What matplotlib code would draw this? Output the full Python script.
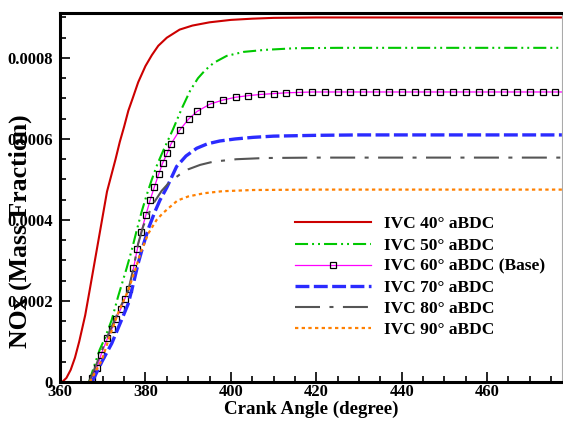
import matplotlib
matplotlib.use("Agg")
import matplotlib.pyplot as plt
from matplotlib.ticker import MultipleLocator, FixedLocator, FixedFormatter

plt.rcParams["font.family"] = ["Liberation Serif", "DejaVu Serif"]
plt.rcParams["font.weight"] = "bold"
plt.rcParams["lines.scale_dashes"] = False

# ------------------------------------------------------------------ data
# crank angle (deg) / NOx mass fraction
ca_40 = [360.5, 361.5, 362.5, 363.5, 364.5, 365.9, 367, 368, 369, 370, 371, 372,
         373, 374, 375, 376, 377, 378.3, 380, 381.5, 383, 385, 388, 391, 395,
         400, 405, 410, 420, 477.5]
nox_40 = [0, 0.00001, 0.00003, 0.00006, 0.0001, 0.000165, 0.00023, 0.00029,
          0.00035, 0.00041, 0.00047, 0.00051, 0.00055, 0.000593, 0.00063,
          0.00067, 0.0007, 0.00074, 0.00078, 0.000807, 0.00083, 0.00085,
          0.00087, 0.00088, 0.000888, 0.000894, 0.000897, 0.000899, 0.0009,
          0.0009]

ca_50 = [366.8, 368.2, 369.3, 370.5, 372.1, 373.6, 375.6, 376.8, 377.9, 379.1,
         380.3, 381.5, 382.8, 384.2, 386.5, 388.5, 390.5, 392.3, 394, 396, 399,
         403, 408, 415, 425, 477.5]
nox_50 = [0, 0.000046, 0.00008, 0.000108, 0.000153, 0.000211, 0.000281,
          0.000326, 0.000372, 0.00042, 0.000462, 0.0005, 0.000538, 0.000572,
          0.000625, 0.000675, 0.00072, 0.00075, 0.00077, 0.000788, 0.000805,
          0.000815, 0.00082, 0.000824, 0.000825, 0.000825]

ca_60 = [366.8, 367.4, 368.6, 369.6, 371.1, 372.1, 373.1, 374.2, 375.1, 376.1,
         377.2, 378.1, 379.0, 380.1, 381.1, 382.1, 383.1, 384.0, 385.1, 386.0,
         388.1, 390.1, 392.1, 395.1, 398.1, 401.1, 404.1, 407, 410, 413, 416,
         419, 422, 425, 428, 431, 434, 437, 440, 443, 446, 449, 452, 455, 458,
         461, 464, 467, 470, 473, 476, 477.5]
nox_60 = [0, 0.000011, 0.000034, 0.000067, 0.000108, 0.00013, 0.000155,
          0.00018, 0.000204, 0.000229, 0.000281, 0.000328, 0.000371, 0.000412,
          0.000449, 0.000482, 0.000513, 0.00054, 0.000565, 0.000588, 0.000623,
          0.000649, 0.000668, 0.000686, 0.000696, 0.000703, 0.000707, 0.00071,
          0.000712, 0.000714, 0.000715, 0.000716, 0.000716, 0.000716, 0.000716,
          0.000716, 0.000716, 0.000716, 0.000716, 0.000716, 0.000716, 0.000716,
          0.000716, 0.000716, 0.000716, 0.000716, 0.000716, 0.000716, 0.000716,
          0.000716, 0.000716, 0.000716]

ca_70 = [367.5, 369.8, 372.1, 374.4, 376.0, 377.2, 378.3, 379.5, 380.7, 382.2,
         383.4, 385.0, 387.3, 389.5, 392.0, 394.5, 397.4, 401, 405.2, 410, 420,
         430, 477.5]
nox_70 = [0, 0.00005, 0.000095, 0.000153, 0.000194, 0.000244, 0.000293,
          0.000338, 0.000379, 0.00042, 0.000449, 0.00048, 0.000532, 0.000558,
          0.000577, 0.000588, 0.000595, 0.0006, 0.000604, 0.000607, 0.000609,
          0.00061, 0.00061]

ca_80 = [366.8, 368, 369.4, 370.9, 372.5, 374.0, 376.0, 377.2, 378.3, 379.5,
         380.5, 382.0, 383.8, 385.7, 388, 390.0, 392.8, 395.9, 401.3, 408, 420,
         477.5]
nox_80 = [0, 0.00003, 0.000067, 0.000108, 0.000146, 0.000182, 0.000227,
          0.000281, 0.000342, 0.000385, 0.00041, 0.000443, 0.000472, 0.000494,
          0.000512, 0.000525, 0.000536, 0.000544, 0.00055, 0.000553, 0.000554,
          0.000554]

ca_90 = [367.0, 369.8, 371.7, 373.6, 376.0, 377.6, 379.1, 380.7, 382.6, 384.0,
         385.5, 387.5, 390, 393.7, 398, 405.2, 420, 477.5]
nox_90 = [0, 0.000054, 0.000115, 0.00017, 0.000227, 0.000277, 0.000326,
          0.000367, 0.0004, 0.000416, 0.00043, 0.000448, 0.000458, 0.000466,
          0.000471, 0.000474, 0.000475, 0.000475]

labels = ["IVC 40° aBDC", "IVC 50° aBDC", "IVC 60° aBDC (Base)",
          "IVC 70° aBDC", "IVC 80° aBDC", "IVC 90° aBDC"]

x_ticks = [360, 380, 400, 420, 440, 460]
y_ticks = [0, 0.0002, 0.0004, 0.0006, 0.0008]
y_tick_labels = ["0", "0.0002", "0.0004", "0.0006", "0.0008"]

# ------------------------------------------------------------------ plot
fig = plt.figure(figsize=(5.63, 4.25), dpi=100)
ax = fig.add_axes([0.1066, 0.1012, 0.8914, 0.8682])

ax.plot(ca_40, nox_40, color="#cc0000", lw=1.5, label=labels[0])
ax.plot(ca_50, nox_50, color="#00c800", lw=1.5,
        dashes=(9.4, 2.9, 1.4, 2.9, 1.4, 2.9), label=labels[1])
ax.plot(ca_60, nox_60, color="#ff00ff", lw=0.9, marker="s", ms=4.0,
        mfc="none", mec="black", mew=0.9, markevery=slice(1, -1),
        label=labels[2])
ax.plot(ca_70, nox_70, color="#2b2bff", lw=2.4, dashes=(10, 3.2),
        label=labels[3])
ax.plot(ca_80, nox_80, color="#555555", lw=1.5, dashes=(18, 6.8, 2.9, 6.8),
        label=labels[4])
ax.plot(ca_90, nox_90, color="#ff8000", lw=1.6, dashes=(2.4, 2.4),
        label=labels[5])

ax.set_xlim(360, 477.5)
ax.set_ylim(0, 0.000911)

ax.xaxis.set_major_locator(FixedLocator(x_ticks))
ax.xaxis.set_minor_locator(MultipleLocator(5))
ax.yaxis.set_major_locator(FixedLocator(y_ticks))
ax.yaxis.set_major_formatter(FixedFormatter(y_tick_labels))
ax.yaxis.set_minor_locator(MultipleLocator(0.00005))

ax.tick_params(which="both", direction="in", top=False, right=False,
               labelsize=12, width=1.2, color="black")
ax.tick_params(which="major", length=7)
ax.tick_params(which="minor", length=4.5)
ax.tick_params(axis="x", pad=1.5)
ax.tick_params(axis="y", pad=5)
for lab in ax.get_xticklabels() + ax.get_yticklabels():
    lab.set_fontweight("bold")

for side in ("left", "bottom", "top"):
    ax.spines[side].set_linewidth(2.2)
    ax.spines[side].set_color("black")
ax.spines["right"].set_linewidth(0.8)
ax.spines["right"].set_color("#aaaaaa")

ax.set_xlabel("Crank Angle (degree)", fontsize=13.7, fontweight="bold")
ax.xaxis.set_label_coords(0.5, -0.05)
ax.set_ylabel("NOx (Mass Fraction)", fontsize=18.5, fontweight="bold")
ax.yaxis.set_label_coords(-0.056, 0.41)

leg = ax.legend(loc="upper left", bbox_to_anchor=(0.468, 0.449),
                frameon=False, fontsize=12.5, handlelength=4.4,
                handletextpad=0.75, labelspacing=0.29, borderpad=0,
                borderaxespad=0, numpoints=1)

fig.savefig("out.png", dpi=100)
